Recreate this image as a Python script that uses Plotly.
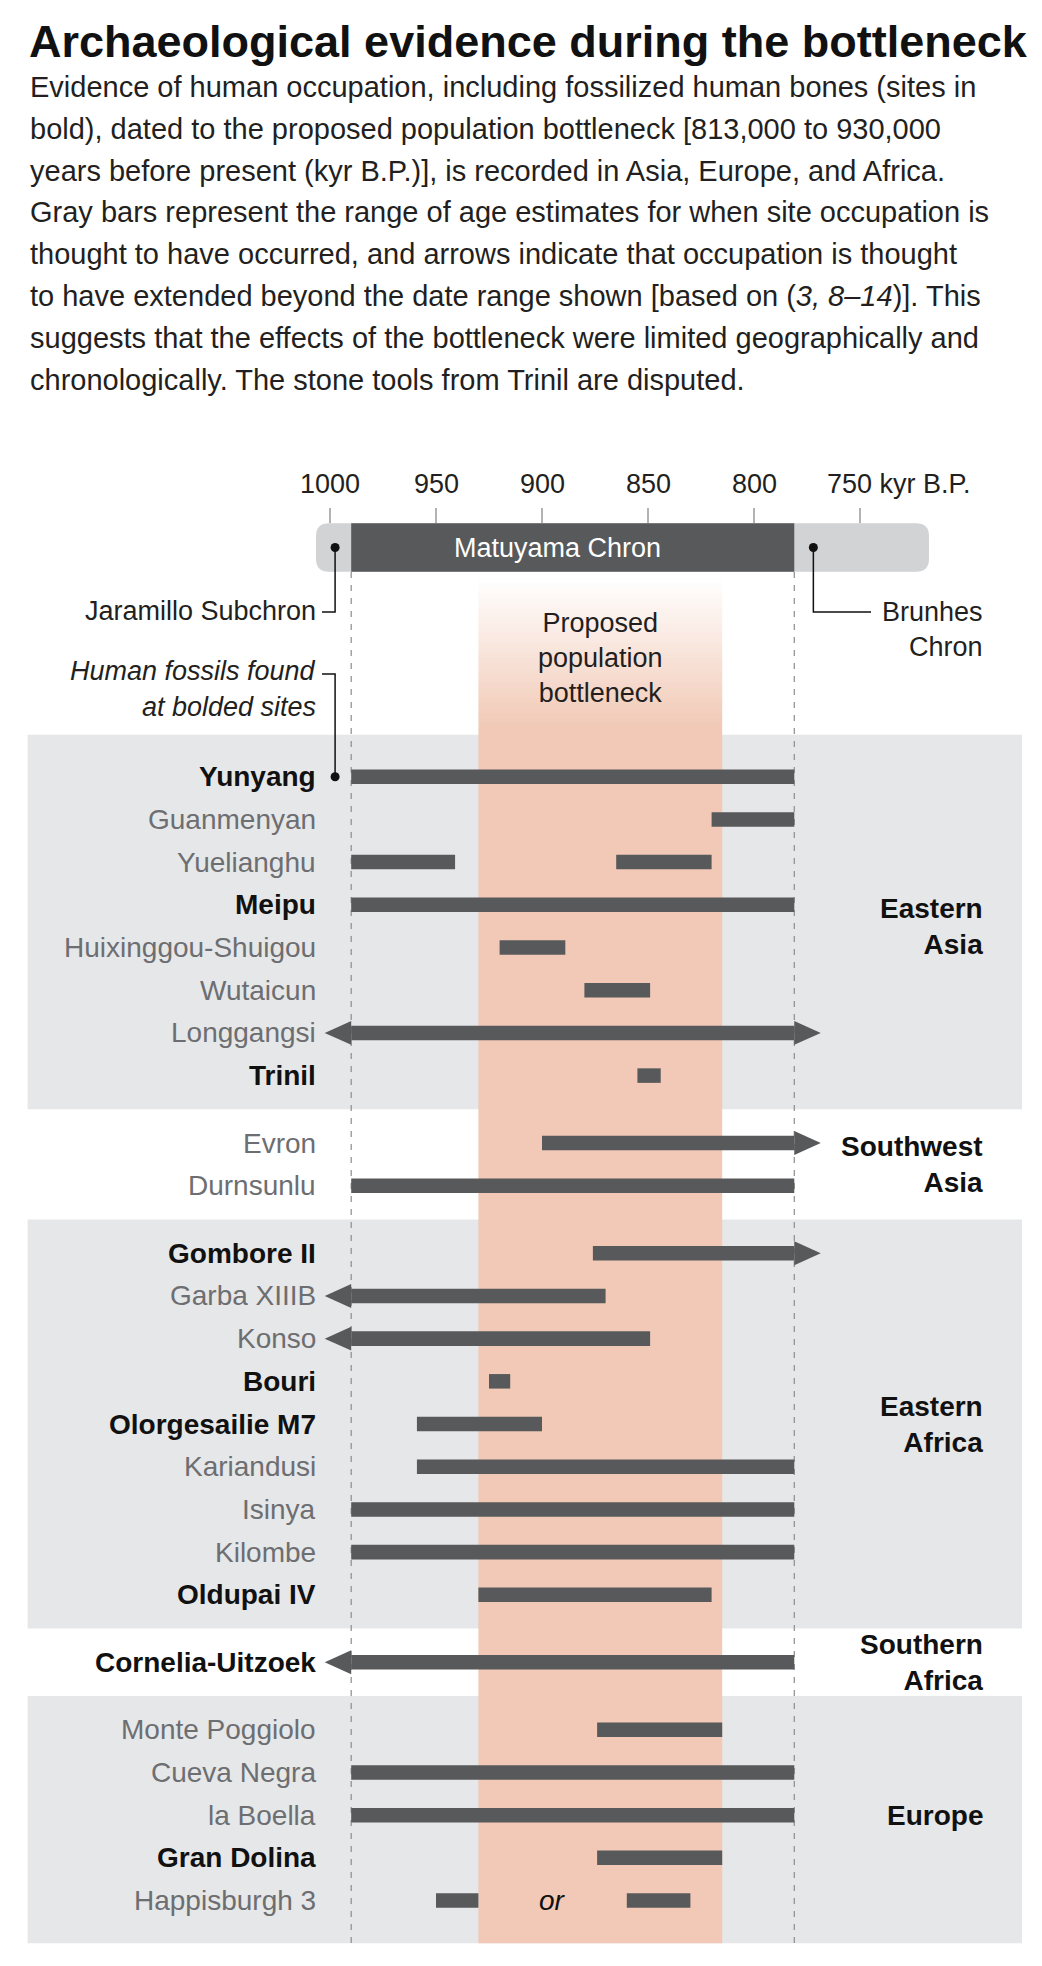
import plotly.graph_objects as go

# ---------------- data ----------------
sites = ["Yunyang", "Guanmenyan", "Yuelianghu", "Meipu", "Huixinggou-Shuigou",
         "Wutaicun", "Longgangsi", "Trinil",
         "Evron", "Durnsunlu",
         "Gombore II", "Garba XIIIB", "Konso", "Bouri", "Olorgesailie M7",
         "Kariandusi", "Isinya", "Kilombe", "Oldupai IV",
         "Cornelia-Uitzoek",
         "Monte Poggiolo", "Cueva Negra", "la Boella", "Gran Dolina", "Happisburgh 3"]
site_group = [0] * 8 + [1] * 2 + [2] * 9 + [3] + [4] * 5
fossil_site = [True, False, False, True, False, False, False, True,
               False, False,
               True, False, False, True, True, False, False, False, True,
               True,
               False, False, False, True, False]
groups = ["Eastern<br>Asia", "Southwest<br>Asia", "Eastern<br>Africa",
          "Southern<br>Africa", "Europe"]
group_shaded = [True, False, True, False, True]

# occupation segments, kyr B.P. (older end, younger end)
seg_site = ["Yunyang", "Guanmenyan", "Yuelianghu", "Yuelianghu", "Meipu",
            "Huixinggou-Shuigou", "Wutaicun", "Longgangsi", "Trinil",
            "Evron", "Durnsunlu",
            "Gombore II", "Garba XIIIB", "Konso", "Bouri", "Olorgesailie M7",
            "Kariandusi", "Isinya", "Kilombe", "Oldupai IV",
            "Cornelia-Uitzoek",
            "Monte Poggiolo", "Cueva Negra", "la Boella", "Gran Dolina",
            "Happisburgh 3", "Happisburgh 3"]
seg_old = [990, 820, 990, 865, 990, 920, 880, 990, 855,
           900, 990,
           876, 990, 990, 925, 959, 959, 990, 990, 930,
           990,
           874, 990, 990, 874, 950, 860]
seg_young = [781, 781, 941, 820, 781, 889, 849, 781, 844,
             781, 781,
             781, 870, 849, 915, 900, 781, 781, 781, 820,
             781,
             815, 781, 781, 815, 930, 830]
arrow_older = ["Longgangsi", "Garba XIIIB", "Konso", "Cornelia-Uitzoek"]
arrow_younger = ["Longgangsi", "Evron", "Gombore II"]

tick_vals = [1000, 950, 900, 850, 800, 750]
tick_text = ["1000", "950", "900", "850", "800", "750 kyr B.P."]

matuyama = [990, 781]          # Matuyama Chron (dark bar)
jaramillo_end = 997.6          # Jaramillo Subchron marker
brunhes_mark = 772             # Brunhes Chron marker
bottleneck = [930, 815]        # proposed population bottleneck

title = "Archaeological evidence during the bottleneck"
body_lines = [
    "Evidence of human occupation, including fossilized human bones (sites in",
    "bold), dated to the proposed population bottleneck [813,000 to 930,000",
    "years before present (kyr B.P.)], is recorded in Asia, Europe, and Africa.",
    "Gray bars represent the range of age estimates for when site occupation is",
    "thought to have occurred, and arrows indicate that occupation is thought",
    "to have extended beyond the date range shown [based on (<i>3, 8–14</i>)]. This",
    "suggests that the effects of the bottleneck were limited geographically and",
    "chronologically. The stone tools from Trinil are disputed.",
]

# ---------------- layout geometry ----------------
W, H = 1042, 1966
PPK = 2.12          # px per kyr
X_AT_0 = 1155.66    # kyr value at left edge of page
ROW_PX = 42.7
ROW0_PX = 776.7
GAP = 0.58


def vx(px):
    return X_AT_0 - px / PPK


def ry(py):
    return (py - ROW0_PX) / ROW_PX


FONT = "Liberation Sans, Arial, Helvetica, sans-serif"
BAR = "#58595b"
BOX = "#e6e7e8"
BAND = (241, 201, 182)
DARK = "#231f20"
GRAY = "#6d6e71"

rows = [i + g * GAP for i, g in enumerate(site_group)]
row_of = dict(zip(sites, rows))

fig = go.Figure()

# region boxes
box_bounds = []
for gi, shaded in enumerate(group_shaded):
    idx = [i for i, g in enumerate(site_group) if g == gi]
    first, last = rows[idx[0]], rows[idx[-1]]
    top = (rows[idx[0] - 1] + first) / 2 if idx[0] > 0 else first - 0.98
    bot = (last + rows[idx[-1] + 1]) / 2 if idx[-1] < len(rows) - 1 else last + 1.0
    box_bounds.append((top, bot))
    if shaded:
        fig.add_shape(type="rect", xref="paper", yref="y", x0=27.6 / W, x1=1022 / W,
                      y0=top, y1=bot, fillcolor=BOX, line_width=0, layer="below")
chart_bottom = box_bounds[-1][1]

# bottleneck band with fading top
g_top, g_bot = ry(578), ry(728)
N = 30
for k in range(N):
    a = (k + 0.5) / N
    y0 = g_top + (g_bot - g_top) * k / N
    y1 = g_top + (g_bot - g_top) * (k + 1) / N
    fig.add_shape(type="rect", xref="x", yref="y", x0=bottleneck[0], x1=bottleneck[1],
                  y0=y0, y1=y1, line_width=0, layer="below",
                  fillcolor=f"rgba({BAND[0]},{BAND[1]},{BAND[2]},{a:.3f})")
fig.add_shape(type="rect", xref="x", yref="y", x0=bottleneck[0], x1=bottleneck[1],
              y0=g_bot, y1=chart_bottom, line_width=0, layer="below",
              fillcolor=f"rgb({BAND[0]},{BAND[1]},{BAND[2]})")

# dashed chron boundaries
for xv in matuyama:
    fig.add_shape(type="line", xref="x", yref="y", x0=xv, x1=xv, y0=ry(572), y1=chart_bottom,
                  line=dict(color="#8c8c8c", width=1.2, dash="6px,7px"), layer="below")

# chron bar
ct, cb = ry(523.3), ry(571.7)
xl, xr = vx(316), vx(929)
rx, rr = 13 / PPK, 13 / ROW_PX
pill = (f"M {xl - rx},{ct} L {xr + rx},{ct} Q {xr},{ct} {xr},{ct + rr} "
        f"L {xr},{cb - rr} Q {xr},{cb} {xr + rx},{cb} L {xl - rx},{cb} "
        f"Q {xl},{cb} {xl},{cb - rr} L {xl},{ct + rr} Q {xl},{ct} {xl - rx},{ct} Z")
fig.add_shape(type="path", xref="x", yref="y", path=pill, fillcolor="#d1d3d4",
              line_width=0, layer="below")
fig.add_shape(type="rect", xref="x", yref="y", x0=matuyama[0], x1=matuyama[1], y0=ct, y1=cb,
              fillcolor=BAR, line_width=0, layer="below")
cmid = (ct + cb) / 2

# ticks
for t in tick_vals:
    fig.add_shape(type="line", xref="x", yref="y", x0=t, x1=t, y0=ry(508), y1=ry(523),
                  line=dict(color="#8a8a8a", width=1.3))
for t, lab in zip(tick_vals, tick_text):
    if lab == tick_text[-1]:
        fig.add_annotation(x=t, y=ry(484), text=lab, showarrow=False, xanchor="left",
                           xshift=-35, font=dict(family=FONT, size=27, color=DARK))
    else:
        fig.add_annotation(x=t, y=ry(484), text=lab, showarrow=False, xanchor="center",
                           font=dict(family=FONT, size=27, color=DARK))

# occupation bars
fig.add_trace(go.Bar(orientation="h", y=[row_of[s] for s in seg_site], base=seg_young,
                     x=[o - y for o, y in zip(seg_old, seg_young)], width=0.34,
                     marker=dict(color=BAR, line=dict(width=0)),
                     hoverinfo="skip", showlegend=False))

# arrowheads
HEAD_LEN, HEAD_HALF = 12.5, 0.28
for s in arrow_older:
    r = row_of[s]
    x0 = max(o for ss, o in zip(seg_site, seg_old) if ss == s)
    fig.add_shape(type="path", xref="x", yref="y", fillcolor=BAR, line_width=0,
                  path=f"M {x0},{r - HEAD_HALF} L {x0 + HEAD_LEN},{r} L {x0},{r + HEAD_HALF} Z")
for s in arrow_younger:
    r = row_of[s]
    x0 = min(yv for ss, yv in zip(seg_site, seg_young) if ss == s)
    fig.add_shape(type="path", xref="x", yref="y", fillcolor=BAR, line_width=0,
                  path=f"M {x0},{r - HEAD_HALF} L {x0 - HEAD_LEN},{r} L {x0},{r + HEAD_HALF} Z")

# leader lines + dots
lead = dict(color="#111111", width=1.5)
fig.add_shape(type="path", xref="x", yref="y", line=lead,
              path=f"M {jaramillo_end},{cmid} L {jaramillo_end},{ry(612)} L {vx(322)},{ry(612)}")
fig.add_shape(type="path", xref="x", yref="y", line=lead,
              path=f"M {brunhes_mark},{cmid} L {brunhes_mark},{ry(612)} L {vx(871)},{ry(612)}")
fig.add_shape(type="path", xref="x", yref="y", line=lead,
              path=f"M {vx(322)},{ry(674)} L {jaramillo_end},{ry(674)} L {jaramillo_end},{rows[0]}")
fig.add_trace(go.Scatter(x=[jaramillo_end, brunhes_mark, jaramillo_end], y=[cmid, cmid, rows[0]],
                         mode="markers", marker=dict(color="#111111", size=9),
                         hoverinfo="skip", showlegend=False))

# texts
def ann(x, y, text, size=28, color=DARK, xanchor="right", align="right", **kw):
    fig.add_annotation(x=x, y=y, text=text, showarrow=False, xanchor=xanchor, yanchor="middle",
                       align=align, font=dict(family=FONT, size=size, color=color), **kw)

ann(vx(27), ry(41), f"<b>{title}</b>", size=45, color="#111111", xanchor="left", align="left")
for i, line in enumerate(body_lines):
    ann(vx(28), ry(87 + i * 41.8), line, size=29, xanchor="left", align="left")

ann((matuyama[0] + matuyama[1]) / 2 + 7, cmid, "Matuyama Chron", size=27, color="#ffffff",
    xanchor="center", align="center")
ann(vx(318), ry(611), "Jaramillo Subchron", size=27)
ann(vx(318), ry(671), "<i>Human fossils found</i>", size=27)
ann(vx(318), ry(707), "<i>at bolded sites</i>", size=27)
ann(vx(985), ry(629), "Brunhes<br>Chron", size=27)
ann(sum(bottleneck) / 2, ry(658), "Proposed<br>population<br>bottleneck", size=27,
    xanchor="center", align="center")

for s, r, bold in zip(sites, rows, fossil_site):
    if bold:
        ann(vx(318), r, f"<b>{s}</b>", size=28, color="#111111")
    else:
        ann(vx(318), r, s, size=28, color=GRAY)

for gi, gname in enumerate(groups):
    idx = [i for i, g in enumerate(site_group) if g == gi]
    center = (rows[idx[0]] + rows[idx[-1]]) / 2
    ann(vx(985), center, f"<b>{gname}</b>", size=28, color="#111111")

# "or" between the two Happisburgh 3 ranges
hap = [i for i, s in enumerate(seg_site) if s == "Happisburgh 3"]
ann((seg_young[hap[0]] + seg_old[hap[1]]) / 2, row_of["Happisburgh 3"], "<i>or</i>",
    size=28, color="#111111", xanchor="center", align="center")

fig.update_layout(
    width=W, height=H, autosize=False,
    margin=dict(l=0, r=0, t=0, b=0, pad=0),
    paper_bgcolor="white", plot_bgcolor="white",
    barmode="overlay", showlegend=False,
    xaxis=dict(range=[X_AT_0, X_AT_0 - W / PPK], visible=False, fixedrange=True),
    yaxis=dict(range=[(H - ROW0_PX) / ROW_PX, -ROW0_PX / ROW_PX], visible=False, fixedrange=True),
)

fig.write_html("out.html", config={"displayModeBar": False})
